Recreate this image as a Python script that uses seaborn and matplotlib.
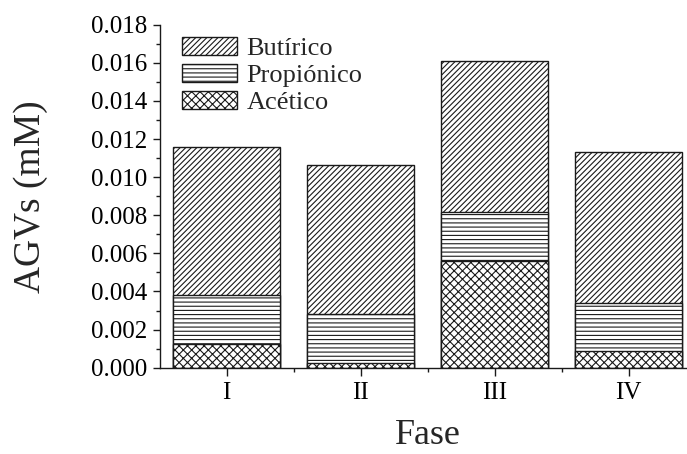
import matplotlib
matplotlib.use("Agg")
import matplotlib.pyplot as plt
import seaborn as sns
import numpy as np
import pandas as pd
from matplotlib.ticker import MultipleLocator, FixedLocator, FormatStrFormatter

# Volatile fatty acid concentrations (mM) per phase
fases = ["I", "II", "III", "IV"]
acetico = [0.00123, 0.00023, 0.00558, 0.00086]
propionico = [0.00258, 0.00259, 0.00259, 0.00255]
butirico = [0.00779, 0.00780, 0.00791, 0.00791]

df = pd.DataFrame({"Fase": fases, "Acético": acetico,
                   "Propiónico": propionico, "Butírico": butirico})
df["ac_top"] = df["Acético"]
df["pr_top"] = df["ac_top"] + df["Propiónico"]
df["bu_top"] = df["pr_top"] + df["Butírico"]

sns.set_style("ticks")
plt.rcParams["font.family"] = ["Liberation Serif", "DejaVu Serif"]
plt.rcParams["hatch.linewidth"] = 0.8
plt.rcParams["axes.linewidth"] = 1.0

fig = plt.figure(figsize=(6.87, 4.54), dpi=100)
W, H = 687, 454
x0, x1, ytop, ybot = 159.5, 695.5, 24.7, 367.7
ax = fig.add_axes([x0 / W, (H - ybot) / H, (x1 - x0) / W, (ybot - ytop) / H])

edge = "#1a1a1a"
layers = [("bu_top", "Butírico", "//////"),
          ("pr_top", "Propiónico", "----"),
          ("ac_top", "Acético", "xxxx")]
for col, lab, hatch in layers:
    sns.barplot(data=df, x="Fase", y=col, color="white", edgecolor=edge,
                linewidth=1.0, width=0.8, errorbar=None, hatch=hatch,
                label=lab, ax=ax)

ax.set_xlim(-0.5, 3.5)
ax.set_ylim(0, 0.018)
ax.yaxis.set_major_locator(MultipleLocator(0.002))
ax.yaxis.set_minor_locator(MultipleLocator(0.001))
ax.yaxis.set_major_formatter(FormatStrFormatter("%.3f"))
ax.xaxis.set_minor_locator(FixedLocator([0.5, 1.5, 2.5]))

ax.tick_params(axis="both", which="major", direction="out", length=5,
               width=1.0, color=edge, labelsize=18, labelcolor="black")
ax.tick_params(axis="both", which="minor", direction="out", length=3,
               width=1.0, color=edge)
ax.tick_params(axis="x", which="major", length=6, pad=4)

for s in ["top", "right"]:
    ax.spines[s].set_visible(False)
for s in ["left", "bottom"]:
    ax.spines[s].set_color(edge)

ax.set_xlabel("Fase", fontsize=26, labelpad=11)
ax.set_ylabel("AGVs (mM)", fontsize=27, labelpad=31)

leg = ax.legend(loc="upper left", bbox_to_anchor=(0.012, 1.01), frameon=False,
                fontsize=19, handlelength=2.1, handleheight=0.65,
                labelspacing=0.15, handletextpad=0.35, borderaxespad=0.2)

fig.savefig("out.png", dpi=100)
